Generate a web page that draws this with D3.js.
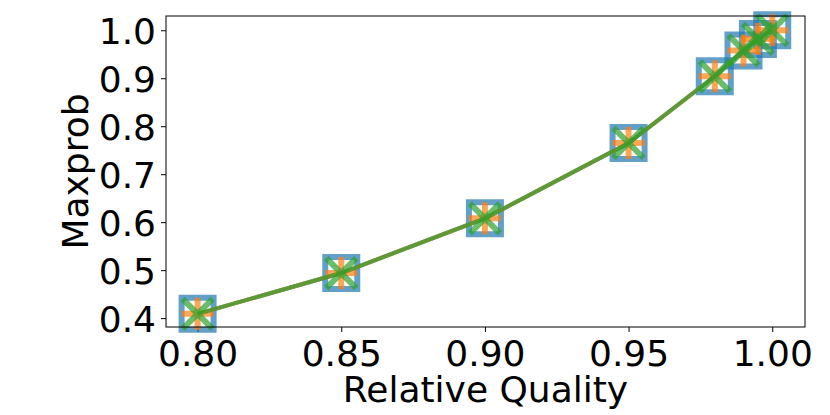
<!DOCTYPE html>
<html>
<head>
<meta charset="utf-8">
<script src="https://d3js.org/d3.v7.min.js"></script>
<style>
  body { margin: 0; background: #fff; }
  text { font-family: "DejaVu Sans", sans-serif; }
</style>
</head>
<body>
<svg width="830" height="415"></svg>
<script>
const quality = [0.80, 0.85, 0.90, 0.95, 0.98, 0.99, 0.995, 1.00]
const maxprobA = [0.409, 0.494, 0.608, 0.765, 0.904, 0.958, 0.982, 1.00]
const maxprobB = [0.409, 0.494, 0.608, 0.765, 0.904, 0.958, 0.982, 1.00]
const maxprobC = [0.409, 0.494, 0.608, 0.765, 0.904, 0.958, 0.982, 1.00]
const xTicks = [0.80, 0.85, 0.90, 0.95, 1.00]
const yTicks = [0.4, 0.5, 0.6, 0.7, 0.8, 0.9, 1.0]

const svg = d3.select("svg")
const margin = { top: 16, right: 25, bottom: 88, left: 166 }
const width = 830, height = 415
const innerWidth = width - margin.left - margin.right
const innerHeight = height - margin.top - margin.bottom
const fontSize = 36

const xScale = d3.scaleLinear().domain([0.789, 1.0114]).range([0, innerWidth])
const yScale = d3.scaleLinear().domain([0.3815, 1.0297]).range([innerHeight, 0])

const g = svg.append("g").attr("transform", `translate(${margin.left},${margin.top})`)

const xAxis = d3.axisBottom(xScale).tickValues(xTicks).tickFormat(d3.format(".2f")).tickSize(5).tickPadding(5)
const yAxis = d3.axisLeft(yScale).tickValues(yTicks).tickFormat(d3.format(".1f")).tickSize(5).tickPadding(5)

const gx = g.append("g").attr("transform", `translate(0,${innerHeight})`).call(xAxis)
const gy = g.append("g").call(yAxis)
for (const ax of [gx, gy]) {
  ax.select(".domain").remove()
  ax.selectAll("line").attr("stroke", "#000").attr("stroke-width", 1)
  ax.selectAll("text").attr("font-size", fontSize).attr("fill", "#000")
    .attr("font-family", "DejaVu Sans, sans-serif")
}
gx.selectAll("text").attr("dy", "0.8em")
gy.selectAll("text").attr("dy", "0.36em")

const line = d3.line().x(d => xScale(d[0])).y(d => yScale(d[1]))
const series = [
  { vals: maxprobA, color: "#1f77b4", marker: "square" },
  { vals: maxprobB, color: "#ff7f0e", marker: "plus" },
  { vals: maxprobC, color: "#2ca02c", marker: "cross" }
]
const markerPath = {
  square: "M-16,-16H16V16H-16Z",
  plus: "M0,-16V16M-16,0H16",
  cross: "M-15,-15L15,15M-15,15L15,-15"
}

const plot = g.append("g")
series.forEach(s => {
  const pts = quality.map((q, i) => [q, s.vals[i]])
  plot.append("path").datum(pts)
    .attr("d", line)
    .attr("fill", "none")
    .attr("stroke", s.color)
    .attr("stroke-width", 4)
    .attr("opacity", 0.7)
  plot.selectAll(null).data(pts).enter().append("path")
    .attr("transform", d => `translate(${xScale(d[0])},${yScale(d[1])})`)
    .attr("d", markerPath[s.marker])
    .attr("fill", "none")
    .attr("stroke", s.color)
    .attr("stroke-width", 6)
    .attr("opacity", 0.7)
})

g.append("rect")
  .attr("width", innerWidth).attr("height", innerHeight)
  .attr("fill", "none").attr("stroke", "#000").attr("stroke-width", 1)

svg.append("text")
  .attr("x", margin.left + innerWidth / 2).attr("y", 402)
  .attr("text-anchor", "middle").attr("font-size", fontSize)
  .text("Relative Quality")

svg.append("text")
  .attr("transform", `translate(88,${margin.top + innerHeight / 2}) rotate(-90)`)
  .attr("text-anchor", "middle").attr("font-size", fontSize)
  .text("Maxprob")
</script>
</body>
</html>
